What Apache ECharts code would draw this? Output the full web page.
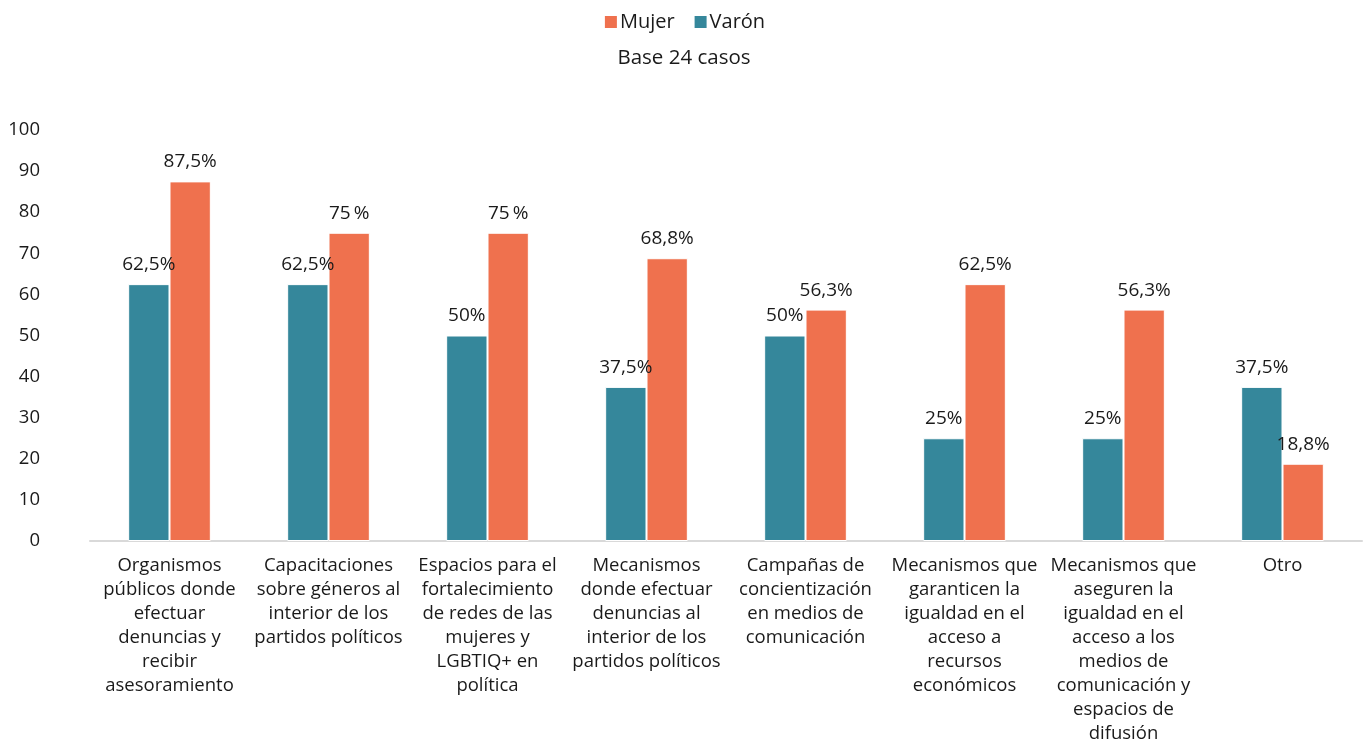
<!DOCTYPE html>
<html><head><meta charset="utf-8">
<script src="https://cdn.jsdelivr.net/npm/echarts@6/dist/echarts.min.js"></script>
<style>html,body{margin:0;padding:0;background:#fff}#c{width:1368px;height:747px}</style>
</head><body><div id="c"></div>
<script>
const categories = [
  "Organismos\npúblicos donde\nefectuar\ndenuncias y\nrecibir\nasesoramiento",
  "Capacitaciones\nsobre géneros al\ninterior de los\npartidos políticos",
  "Espacios para el\nfortalecimiento\nde redes de las\nmujeres y\nLGBTIQ+ en\npolítica",
  "Mecanismos\ndonde efectuar\ndenuncias al\ninterior de los\npartidos políticos",
  "Campañas de\nconcientización\nen medios de\ncomunicación",
  "Mecanismos que\ngaranticen la\nigualdad en el\nacceso a\nrecursos\neconómicos",
  "Mecanismos que\naseguren la\nigualdad en el\nacceso a los\nmedios de\ncomunicación y\nespacios de\ndifusión",
  "Otro"
];
const varon = [62.5, 62.5, 50, 37.5, 50, 25, 25, 37.5];
const mujer = [87.5, 75, 75, 68.8, 56.3, 62.5, 56.3, 18.8];
const yTicks = {min: 0, max: 100, interval: 10};

const FONT = 'Open Sans';
const TXT = '#1a1a1a';
function fmt(p) {
  const v = p.value;
  if (v === 75) return '75\u2009%';
  return String(v).replace('.', ',') + '%';
}
const chart = echarts.init(document.getElementById('c'), null, {renderer: 'canvas'});
chart.setOption({
  animation: false,
  textStyle: {fontFamily: FONT},
  title: {
    text: 'Base 24 casos', left: 'center', top: 43,
    textStyle: {fontFamily: FONT, fontSize: 20.5, fontWeight: 'normal', color: TXT}
  },
  legend: {
    data: ['Mujer', 'Varón'], top: 7, left: 'center',
    itemWidth: 14, itemHeight: 14, itemGap: 18,
    icon: 'rect',
    textStyle: {fontFamily: FONT, fontSize: 20, color: TXT, padding: [0, 0, 0, -3]}
  },
  grid: {left: 90, right: 6, top: 130, bottom: 206, containLabel: false},
  xAxis: {
    type: 'category', data: categories,
    axisLine: {lineStyle: {color: '#d9d9d9', width: 2}},
    axisTick: {show: false},
    axisLabel: {interval: 0, fontFamily: FONT, fontSize: 18.5, color: TXT, lineHeight: 24, margin: 13}
  },
  yAxis: {
    type: 'value', min: yTicks.min, max: yTicks.max, interval: yTicks.interval,
    axisLine: {show: false}, axisTick: {show: false}, splitLine: {show: false},
    axisLabel: {fontFamily: FONT, fontSize: 18.5, color: TXT, margin: 50}
  },
  series: [
    {
      name: 'Varón', type: 'bar', data: varon, barGap: '0%', barCategoryGap: '48%',
      itemStyle: {color: '#35879B', borderColor: '#ffffff', borderWidth: 1},
      label: {show: true, position: 'top', distance: 10, formatter: fmt, fontFamily: FONT, fontSize: 19, color: TXT}
    },
    {
      name: 'Mujer', type: 'bar', data: mujer, barGap: '0%', barCategoryGap: '48%',
      itemStyle: {color: '#EF714E', borderColor: '#ffffff', borderWidth: 1},
      label: {show: true, position: 'top', distance: 10, formatter: fmt, fontFamily: FONT, fontSize: 19, color: TXT}
    }
  ]
});
</script></body></html>
